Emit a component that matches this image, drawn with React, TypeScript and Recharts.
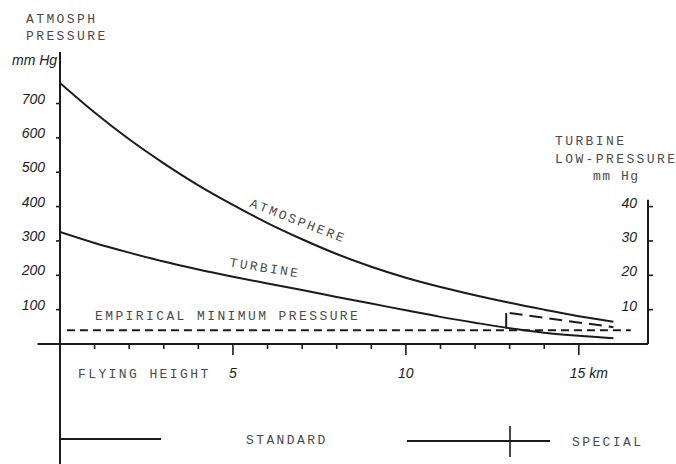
import React from 'react';
import { LineChart, Line, XAxis, YAxis, ReferenceLine } from 'recharts';

// flying height in km
const HEIGHT_KM = [0, 1, 2, 3, 4, 5, 6, 7, 8, 9, 10, 11, 12, 13, 14, 15, 16];
// atmospheric pressure, mm Hg
const ATMOSPHERE_MMHG = [760, 674, 596, 526, 462, 405, 352, 305, 262, 225, 193, 166, 142, 120, 100, 81, 65];
// turbine pressure, mm Hg
const TURBINE_MMHG = [326, 294, 266, 240, 217, 196, 176, 157, 137, 118, 98, 79, 62, 46, 33, 24, 17];

// empirical minimum pressure (dashed), mm Hg
const MINIMUM_KM = [0.2, 16.5];
const MINIMUM_MMHG = [40, 40];

// special turbine low-pressure branch, right-hand scale (mm Hg)
const SPECIAL_RISE_KM = [12.9, 12.9];
const SPECIAL_RISE_LOW = [4.5, 9.0];
const SPECIAL_KM = [13.0, 16];
const SPECIAL_LOW = [9.0, 4.9];

const LEFT_TICKS = [100, 200, 300, 400, 500, 600, 700];
const RIGHT_TICKS = [10, 20, 30, 40];
const X_TICKS = [1, 2, 3, 4, 5, 6, 7, 8, 9, 10, 11, 12, 13, 14, 15];

const INK = '#1b1b1b';
const TYPE_INK = '#4a4a4a';
const TYPEWRITER = '"Liberation Mono", "DejaVu Sans Mono", monospace';
const DIGITS = '"Liberation Sans", Arial, sans-serif';

const zip = (xs: number[], ys: number[]) => xs.map((km, i) => ({ km, v: ys[i] }));

const atmosphere = zip(HEIGHT_KM, ATMOSPHERE_MMHG);
const turbine = zip(HEIGHT_KM, TURBINE_MMHG);
const minimum = zip(MINIMUM_KM, MINIMUM_MMHG);
const specialRise = zip(SPECIAL_RISE_KM, SPECIAL_RISE_LOW);
const special = zip(SPECIAL_KM, SPECIAL_LOW);

const XTick = ({ x, y, payload }: any) => {
  const km = payload.value;
  const major = km % 5 === 0;
  return (
    <g>
      <line x1={x} y1={y} x2={x} y2={y + (major ? 11 : 5)} stroke={INK} strokeWidth={1.6} />
      {major && (
        <text
          x={km === 15 ? x - 9 : x}
          y={y + 34}
          textAnchor={km === 15 ? 'start' : 'middle'}
          fontFamily={DIGITS}
          fontStyle="italic"
          fontSize={14}
          fill={INK}
        >
          {km === 15 ? '15 km' : km}
        </text>
      )}
    </g>
  );
};

const LeftTick = ({ x, y, payload }: any) => (
  <g>
    <line x1={x - 4} y1={y} x2={x} y2={y} stroke={INK} strokeWidth={1.6} />
    <text x={x - 15} y={y} textAnchor="end" fontFamily={DIGITS} fontStyle="italic" fontSize={14} fill={INK}>
      {payload.value}
    </text>
  </g>
);

const RightTick = ({ x, y, payload }: any) => (
  <g>
    <line x1={x} y1={y} x2={x + 5} y2={y} stroke={INK} strokeWidth={1.6} />
    <text x={x - 11} y={y + 1} textAnchor="end" fontFamily={DIGITS} fontStyle="italic" fontSize={14} fill={INK}>
      {payload.value}
    </text>
  </g>
);

const typeText = {
  fontFamily: TYPEWRITER,
  fontSize: 13,
  letterSpacing: 2.4,
  fill: TYPE_INK,
} as const;

export default function App() {
  return (
    <div style={{ position: 'absolute', left: 0, top: 0, width: 676, height: 464, background: '#fff' }}>
      <LineChart width={676} height={464} margin={{ top: 52, right: 0, bottom: 0, left: 0 }}>
        <XAxis
          type="number"
          dataKey="km"
          domain={[0, 17]}
          ticks={X_TICKS}
          interval={0}
          height={120}
          axisLine={false}
          tickLine={false}
          tickSize={0}
          tickMargin={0}
          tick={<XTick />}
          allowDataOverflow
        />
        <YAxis
          yAxisId="left"
          orientation="left"
          type="number"
          domain={[0, 850]}
          ticks={LEFT_TICKS}
          width={60}
          axisLine={false}
          tickLine={false}
          tickSize={0}
          tickMargin={0}
          tick={<LeftTick />}
          allowDataOverflow
        />
        <YAxis
          yAxisId="right"
          orientation="right"
          type="number"
          domain={[0, 85]}
          ticks={RIGHT_TICKS}
          width={28}
          axisLine={false}
          tickLine={false}
          tickSize={0}
          tickMargin={0}
          tick={<RightTick />}
          allowDataOverflow
        />

        {/* axis lines cross each other like a hand-drawn diagram */}
        <ReferenceLine
          yAxisId="left"
          segment={[{ x: -0.65, y: 0 }, { x: 17, y: 0 }]}
          stroke={INK}
          strokeWidth={2}
          ifOverflow="visible"
        />
        <ReferenceLine
          yAxisId="left"
          segment={[{ x: 0, y: -352 }, { x: 0, y: 850 }]}
          stroke={INK}
          strokeWidth={2}
          ifOverflow="visible"
        />
        <ReferenceLine
          yAxisId="right"
          segment={[{ x: 17, y: 0 }, { x: 17, y: 42 }]}
          stroke={INK}
          strokeWidth={2}
          ifOverflow="visible"
        />

        <Line yAxisId="left" data={atmosphere} dataKey="v" type="monotone" stroke={INK} strokeWidth={2} dot={false} isAnimationActive={false} />
        <Line yAxisId="left" data={turbine} dataKey="v" type="monotone" stroke={INK} strokeWidth={2} dot={false} isAnimationActive={false} />
        <Line yAxisId="left" data={minimum} dataKey="v" type="linear" stroke={INK} strokeWidth={2} strokeDasharray="8 5" dot={false} isAnimationActive={false} />
        <Line yAxisId="right" data={specialRise} dataKey="v" type="linear" stroke={INK} strokeWidth={2} dot={false} isAnimationActive={false} />
        <Line yAxisId="right" data={special} dataKey="v" type="linear" stroke={INK} strokeWidth={2} strokeDasharray="13 7" dot={false} isAnimationActive={false} />
      </LineChart>

      <svg width={676} height={464} style={{ position: 'absolute', left: 0, top: 0, pointerEvents: 'none' }}>
        {/* axis titles */}
        <text x={26} y={23} {...typeText}>ATMOSPH</text>
        <text x={26} y={40} {...typeText}>PRESSURE</text>
        <text x={12} y={65} fontFamily={DIGITS} fontStyle="italic" fontSize={14} fill={INK}>mm Hg</text>

        <text x={555} y={145} {...typeText}>TURBINE</text>
        <text x={555} y={163} {...typeText}>LOW-PRESSURE</text>
        <text x={593} y={180} {...typeText} letterSpacing={1.5}>mm Hg</text>

        <text x={78} y={378} {...typeText}>FLYING HEIGHT</text>

        {/* curve labels */}
        <text x={298} y={225} textAnchor="middle" transform="rotate(21 298 221)" {...typeText}>ATMOSPHERE</text>
        <text x={265} y={272} textAnchor="middle" transform="rotate(9 265 268)" {...typeText}>TURBINE</text>
        <text x={95} y={320} {...typeText}>EMPIRICAL MINIMUM PRESSURE</text>

        {/* legend */}
        <line x1={60} y1={439} x2={161} y2={439} stroke={INK} strokeWidth={2} />
        <text x={246} y={444} {...typeText}>STANDARD</text>
        <line x1={407} y1={441} x2={550} y2={441} stroke={INK} strokeWidth={2} />
        <line x1={510} y1={426} x2={510} y2={457} stroke={INK} strokeWidth={1.6} />
        <text x={572} y={446} {...typeText}>SPECIAL</text>
      </svg>
    </div>
  );
}
